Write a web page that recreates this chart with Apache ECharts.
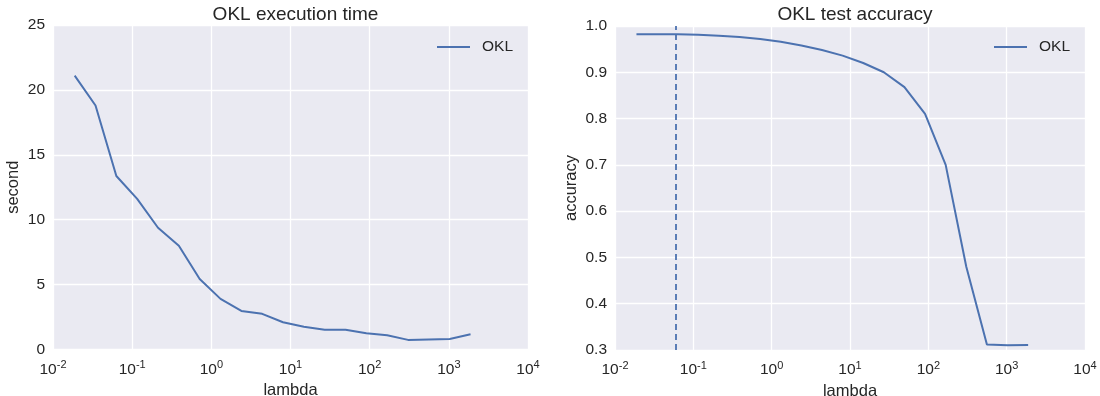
<!DOCTYPE html>
<html><head><meta charset="utf-8">
<script src="https://cdn.jsdelivr.net/npm/echarts@6/dist/echarts.min.js"></script>
<style>html,body{margin:0;padding:0;background:#fff}#c{width:1100px;height:396px}</style>
</head><body><div id="c"></div>
<script>
// lambda values (x, log scale)
const lambdas = [0.01879, 0.03444, 0.06313, 0.1157, 0.2121, 0.3888, 0.7127, 1.3064, 2.3946, 4.389,
                 8.046, 14.75, 27.03, 49.55, 90.83, 166.5, 305.2, 559.4, 1025.4, 1879.6];
// execution time (seconds)
const execTime = [21.1, 18.8, 13.37, 11.6, 9.38, 8.0, 5.43, 3.9, 2.97, 2.75,
                  2.1, 1.76, 1.53, 1.52, 1.25, 1.1, 0.74, 0.78, 0.81, 1.17];
// test accuracy
const accuracy = [0.982, 0.982, 0.982, 0.981, 0.979, 0.976, 0.972, 0.966, 0.958, 0.948,
                  0.936, 0.920, 0.900, 0.868, 0.810, 0.700, 0.480, 0.312, 0.310, 0.311];
const bestLambda = 0.06313;
const titles = ['OKL execution time', 'OKL test accuracy'];
const yNames = ['second', 'accuracy'];
const xName = 'lambda';
const seriesName = 'OKL';

const TXT = '#262626', BG = '#EAEAF2', BLUE = '#4C72B0', FONT = 'Liberation Sans, Arial, sans-serif';
const pair = (xs, ys) => xs.map((x, i) => [x, ys[i]]);

const xAxisBase = (gi) => ({
  type: 'log', logBase: 10, gridIndex: gi, min: 0.01, max: 10000, interval: 1,
  name: xName, nameLocation: 'middle', nameGap: 32,
  nameTextStyle: { fontSize: 16.5, color: TXT, fontFamily: FONT },
  axisLine: { show: false }, axisTick: { show: false },
  splitLine: { show: true, lineStyle: { color: '#ffffff', width: 1.3 } },
  minorTick: { show: false }, minorSplitLine: { show: false },
  axisLabel: {
    margin: 10, color: TXT, fontFamily: FONT,
    formatter: v => '{b|10}{s|' + Math.round(Math.log10(v)) + '}',
    rich: {
      b: { fontSize: 15.5, color: TXT, fontFamily: FONT },
      s: { fontSize: 11, color: TXT, fontFamily: FONT, padding: [0, 0, 9, 0] }
    }
  }
});

const chart = echarts.init(document.getElementById('c'), null, { renderer: 'canvas' });
chart.setOption({
  animation: false,
  backgroundColor: '#ffffff',
  textStyle: { fontFamily: FONT, color: TXT },
  title: [
    { text: titles[0], left: 290.5, textAlign: 'center', top: 0, textStyle: { fontSize: 19, fontWeight: 'normal', color: TXT, fontFamily: FONT } },
    { text: titles[1], left: 850, textAlign: 'center', top: 0, textStyle: { fontSize: 19, fontWeight: 'normal', color: TXT, fontFamily: FONT } }
  ],
  legend: [
    { data: [seriesName], left: 437, top: 39, padding: 0, icon: 'rect', itemWidth: 33, itemHeight: 2,
      textStyle: { fontSize: 15.5, color: TXT, fontFamily: FONT, padding: [0, 0, 0, 7] } },
    { data: [seriesName], left: 994, top: 39, padding: 0, icon: 'rect', itemWidth: 33, itemHeight: 2,
      textStyle: { fontSize: 15.5, color: TXT, fontFamily: FONT, padding: [0, 0, 0, 7] } }
  ],
  grid: [
    { left: 53, right: 572, top: 25, bottom: 46.5, show: true, backgroundColor: BG, borderWidth: 0,
      containLabel: false, outerBoundsMode: 'none' },
    { left: 615, right: 15, top: 26, bottom: 46, show: true, backgroundColor: BG, borderWidth: 0,
      containLabel: false, outerBoundsMode: 'none' }
  ],
  xAxis: [xAxisBase(0), xAxisBase(1)],
  yAxis: [
    { type: 'value', gridIndex: 0, min: 0, max: 25, interval: 5,
      name: yNames[0], nameLocation: 'middle', nameGap: 31,
      nameTextStyle: { fontSize: 16.5, color: TXT, fontFamily: FONT },
      axisLine: { show: false }, axisTick: { show: false },
      splitLine: { lineStyle: { color: '#ffffff', width: 1.3 } },
      axisLabel: { fontSize: 15.5, color: TXT, fontFamily: FONT, margin: 8 } },
    { type: 'value', gridIndex: 1, min: 0.3, max: 1.0, interval: 0.1,
      name: yNames[1], nameLocation: 'middle', nameGap: 35,
      nameTextStyle: { fontSize: 16.5, color: TXT, fontFamily: FONT },
      axisLine: { show: false }, axisTick: { show: false },
      splitLine: { lineStyle: { color: '#ffffff', width: 1.3 } },
      axisLabel: { fontSize: 15.5, color: TXT, fontFamily: FONT, margin: 8, formatter: v => v.toFixed(1) } }
  ],
  series: [
    { name: seriesName, type: 'line', xAxisIndex: 0, yAxisIndex: 0, data: pair(lambdas, execTime),
      symbol: 'none', color: BLUE, lineStyle: { color: BLUE, width: 2 } },
    { name: seriesName, type: 'line', xAxisIndex: 1, yAxisIndex: 1, data: pair(lambdas, accuracy),
      symbol: 'none', color: BLUE, lineStyle: { color: BLUE, width: 2 },
      markLine: { silent: true, symbol: 'none', label: { show: false },
        lineStyle: { color: BLUE, width: 1.8, type: [6, 4] },
        data: [{ xAxis: bestLambda }] } }
  ]
});
</script></body></html>
